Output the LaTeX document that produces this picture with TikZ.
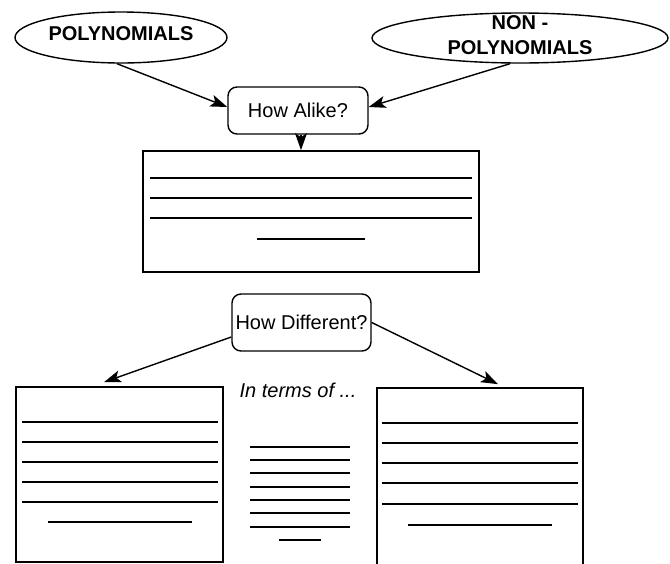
\documentclass[tikz,border=0pt]{standalone}
\usepackage{fontspec}
\setmainfont{Liberation Sans}
\usetikzlibrary{shapes.geometric,arrows.meta}
\begin{document}
\begin{tikzpicture}[x=1pt,y=-1pt]
 \tikzstyle{bulle}=[ellipse,draw,line width=1.4pt,inner sep=0pt]
 \tikzstyle{question}=[rectangle,rounded corners=9pt,draw,line width=1.4pt,inner sep=3pt]
 \tikzstyle{cadre}=[rectangle,draw,line width=1.7pt]
 \tikzstyle{fleche}=[-{Stealth[length=17pt,width=12pt,inset=4pt]},line width=1.4pt]
 \tikzstyle{ligne}=[line width=1.3pt]
 \tikzset{every node/.style={font=\fontsize{20}{25}\selectfont}}
 \path[use as bounding box] (0,0) rectangle (670,563);
 \clip (0,0) rectangle (670,563);
 \node[bulle,minimum width=212pt,minimum height=51pt,
   label={[yshift=3.5pt,font=\fontsize{20}{25}\selectfont\bfseries]center:POLYNOMIALS}] (poly) at (121,37.5) {};
 \node[bulle,minimum width=296pt,minimum height=50pt,
   label={[yshift=2.5pt,align=center,font=\fontsize{20}{25}\selectfont\bfseries]center:{NON -\\POLYNOMIALS}}] (nonpoly) at (520,38) {};
 \node[question,minimum width=140pt,minimum height=47pt] (alike) at (298,110.5) {How Alike?};
 \node[question,minimum width=139pt,minimum height=57pt] (diff) at (301.5,322.5) {How Different?};
 \node[cadre,minimum width=336pt,minimum height=121pt] (alikebox) at (311,211.5) {};
 \node[cadre,minimum width=207pt,minimum height=175pt] (polybox) at (119.5,474.5) {};
 \node[cadre,minimum width=206pt,minimum height=230pt] (nonpolybox) at (480,503) {};
 \node[font=\fontsize{20}{25}\selectfont\itshape,anchor=base] (terms) at (298,397) {In terms of ...};
 \foreach \y in {178,198,218} \draw[ligne] (150,\y) -- (472,\y);
 \draw[ligne] (257,239) -- (365,239);
 \foreach \y in {422,442,462,482,502} \draw[ligne] (22,\y) -- (218,\y);
 \draw[ligne] (48,522) -- (192,522);
 \foreach \y in {423,443,463,483,504} \draw[ligne] (382,\y) -- (578,\y);
 \draw[ligne] (408,525) -- (552,525);
 \foreach \y in {447,460,473,487,500,513,527} \draw[ligne] (250,\y) -- (350,\y);
 \draw[ligne] (279,540) -- (321,540);
 \draw[fleche] ([xshift=-4pt]poly.south) -- ([yshift=3.5pt]alike.west);
 \draw[fleche] ([xshift=-10pt]nonpoly.south) -- ([yshift=3.5pt]alike.east);
 \draw[fleche] ([xshift=3pt]alike.south) -- ([xshift=3pt]alike.south |- alikebox.north);
 \draw[fleche] ([yshift=-14.5pt]diff.west) -- ([xshift=-15.5pt,yshift=4pt]polybox.north);
 \draw[fleche] (diff.east) -- ([xshift=18pt,yshift=3pt]nonpolybox.north);
\end{tikzpicture}
\end{document}
